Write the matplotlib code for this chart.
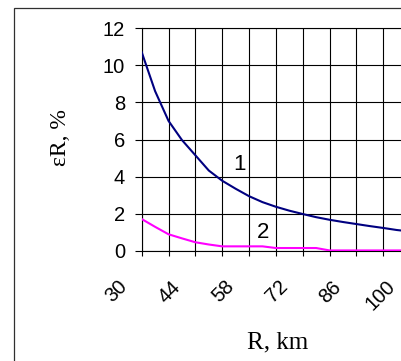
import matplotlib
matplotlib.use('Agg')
import matplotlib.pyplot as plt
from matplotlib.patches import Rectangle
from matplotlib.transforms import ScaledTranslation

# distance R, km (3.5 km step)
r_km = [30, 33.5, 37, 40.5, 44, 47.5, 51, 54.5, 58, 61.5, 65,
        68.5, 72, 75.5, 79, 82.5, 86, 89.5, 93, 96.5, 100]
# curve 1
eps_1 = [10.7, 8.6, 7.0, 5.97, 5.15, 4.33, 3.78, 3.35, 2.95, 2.63, 2.38,
         2.17, 1.99, 1.82, 1.68, 1.56, 1.45, 1.34, 1.24, 1.13, 1.05]
# curve 2
eps_2 = [1.72, 1.3, 0.9, 0.68, 0.47, 0.35, 0.25, 0.25, 0.25, 0.25, 0.16,
         0.16, 0.16, 0.16, 0.03, 0.03, 0.03, 0.03, 0.03, 0.03, 0.03]

x_ticks = [30, 37, 44, 51, 58, 65, 72, 79, 86, 93, 100]
x_labels = ['30', '', '44', '', '58', '', '72', '', '86', '', '100']
y_ticks = [0, 2, 4, 6, 8, 10, 12]

W, H = 401, 361
fig = plt.figure(figsize=(W / 100, H / 100), dpi=100)
fig.patch.set_facecolor('white')

# chart area border (right and bottom cut off in the original)
fig.add_artist(Rectangle((13.5 / W, -0.1), 1.2, (H - 7.5) / H + 0.1,
                         transform=fig.transFigure, fill=False,
                         edgecolor='#303030', linewidth=0.9))

ax = fig.add_axes([141.7 / W, 110 / H, (410.1 - 141.7) / W, 223 / H])
ax.plot(r_km, eps_1, color='#000080', linewidth=1.5, zorder=3)
ax.plot(r_km, eps_2, color='#ff00ff', linewidth=1.5, zorder=3)

ax.set_xlim(30, 100)
ax.set_ylim(0, 12)
ax.set_xticks(x_ticks)
ax.set_xticklabels(x_labels)
ax.set_yticks(y_ticks)
ax.grid(True, color='black', linewidth=0.8)
ax.set_axisbelow(True)
for s in ax.spines.values():
    s.set_color('black')
    s.set_linewidth(0.8)

ax.tick_params(axis='y', length=5, width=0.8, pad=7, labelsize=14.5)
ax.tick_params(axis='x', length=3.6, width=0.8, pad=20, labelsize=14.5)
for lbl in ax.get_yticklabels():
    lbl.set_family('Liberation Sans')
shift = ScaledTranslation(-18 / 100, 0, fig.dpi_scale_trans)
for lbl in ax.get_xticklabels():
    lbl.set_family('Liberation Sans')
    lbl.set_rotation(45)
    lbl.set_rotation_mode('anchor')
    lbl.set_ha('right')
    lbl.set_va('center')
    lbl.set_transform(lbl.get_transform() + shift)

ax.text(55.4, 4.68, '1', fontsize=16, family='Liberation Sans',
        ha='center', va='center')
ax.text(61.75, 1.02, '2', fontsize=16, family='Liberation Sans',
        ha='center', va='center')

fig.text(277.5 / W, 1 - 342 / H, 'R, km', fontsize=18,
         family='Liberation Serif', ha='center', va='center')
fig.text(60 / W, 1 - 138 / H, 'εR, %', fontsize=17, rotation=90,
         family='Liberation Serif', ha='center', va='center')

fig.savefig('out.png', dpi=100)
